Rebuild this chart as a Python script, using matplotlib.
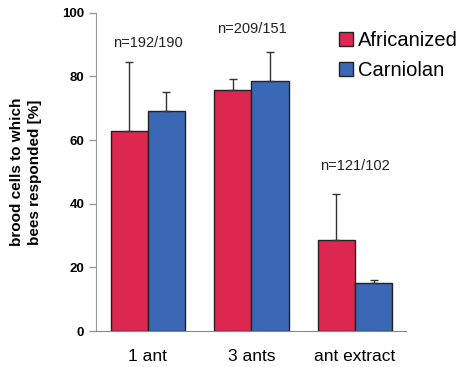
import numpy as np
import matplotlib
matplotlib.use('Agg')
import matplotlib.pyplot as plt

plt.rcParams['font.family'] = ['Liberation Sans', 'DejaVu Sans']

categories = ['1 ant', '3 ants', 'ant extract']
africanized = [62.9, 75.8, 28.6]
africanized_err = [21.7, 3.4, 14.4]
carniolan = [69.2, 78.6, 15.0]
carniolan_err = [6.0, 9.1, 1.0]
n_labels = ['n=192/190', 'n=209/151', 'n=121/102']
n_label_y = [90.5, 95, 52]

fig = plt.figure(figsize=(4.66, 3.67), dpi=100)
ax = fig.add_axes([0.206, 0.098, 0.665, 0.867])

x = np.arange(len(categories))
w = 0.36
ekw = dict(ecolor='#333333', lw=1.0, capsize=3, capthick=1)
ax.bar(x - w / 2, africanized, w, color='#dc2850', edgecolor='#222222', lw=1.0,
       yerr=[np.zeros(3), africanized_err], error_kw=ekw, label='Africanized')
ax.bar(x + w / 2, carniolan, w, color='#3a68b4', edgecolor='#222222', lw=1.0,
       yerr=[np.zeros(3), carniolan_err], error_kw=ekw, label='Carniolan')

for xi, lab, yl in zip(x, n_labels, n_label_y):
    ax.text(xi, yl, lab, ha='center', va='center', fontsize=10.5, color='#222222')

ax.set_ylim(0, 100)
ax.set_xlim(-0.50, 2.49)
ax.set_yticks([0, 20, 40, 60, 80, 100])
ax.set_xticks(x)
ax.set_xticklabels(categories, fontsize=12.5)
ax.tick_params(axis='x', length=0, pad=13)
ax.tick_params(axis='y', labelsize=9.5, length=5, color='#999999', width=1)
for lab in ax.get_yticklabels():
    lab.set_fontweight('bold')
ax.set_ylabel('brood cells to which\nbees responded [%]', fontsize=11, fontweight='bold',
              linespacing=1.35)
ax.yaxis.set_label_coords(-0.174, 0.5)

ax.spines['top'].set_visible(False)
ax.spines['right'].set_visible(False)
ax.spines['left'].set_color('#999999')
ax.spines['bottom'].set_color('#888888')

ax.legend(loc='upper left', bbox_to_anchor=(0.727, 0.915), bbox_transform=fig.transFigure,
          frameon=False, fontsize=14.5, borderpad=0, borderaxespad=0,
          handlelength=0.7, handleheight=0.7, handletextpad=0.25, labelspacing=0.55)

fig.savefig('out.png', dpi=100)
